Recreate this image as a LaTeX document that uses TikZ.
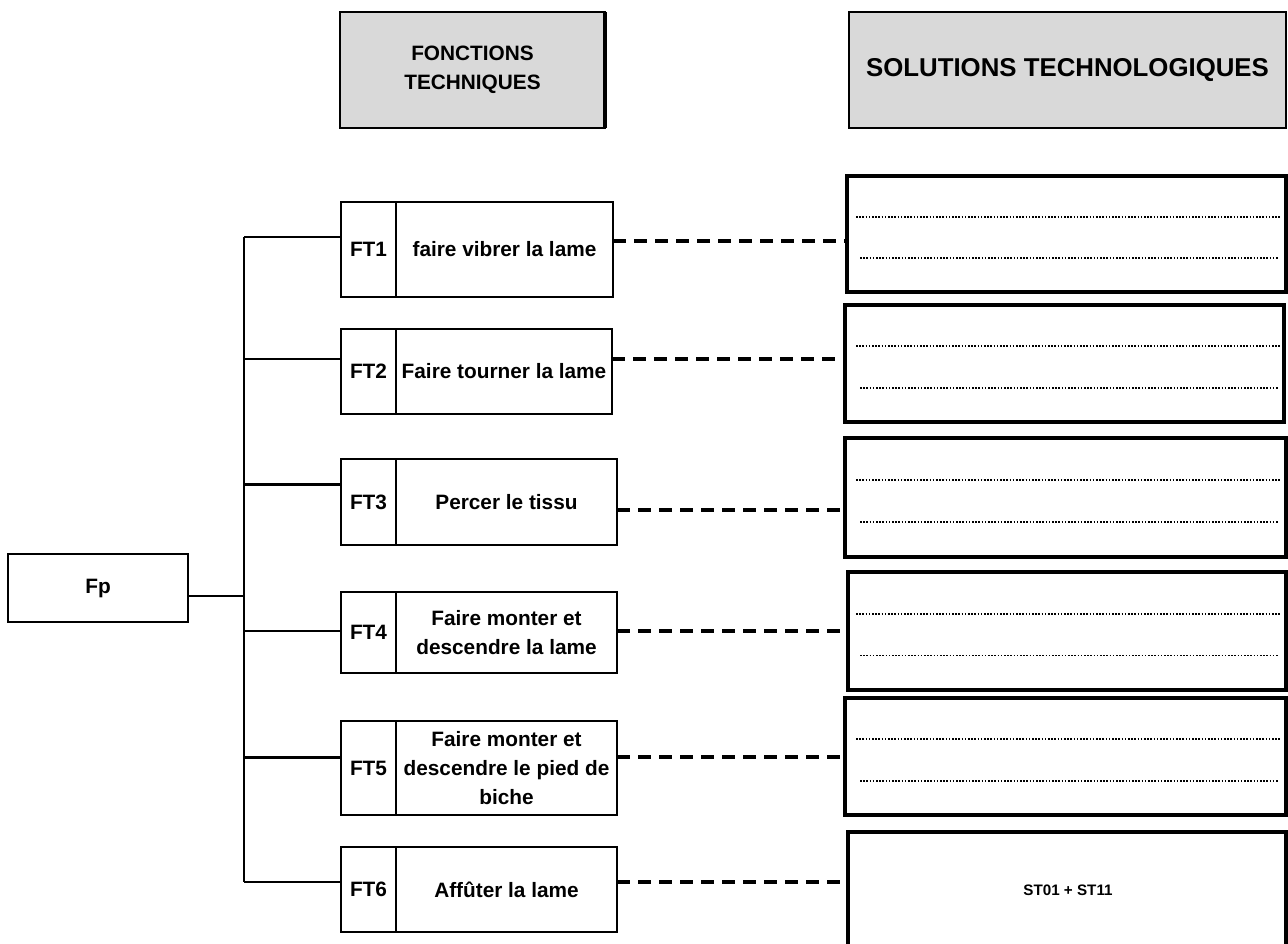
\documentclass[tikz,border=0pt]{standalone}
\usepackage{fontspec}
\setmainfont{Liberation Sans}
\usepackage{tikz}
\usetikzlibrary{positioning,calc}
\definecolor{headgray}{HTML}{D9D9D9}
\tikzstyle{box}    =[draw, line width=1.4pt, inner sep=0pt, outer sep=0pt,
                     align=center, font=\bfseries\fontsize{10.4}{14.5}\selectfont]
\tikzstyle{head}   =[box, fill=headgray, line width=1pt]
\tikzstyle{solbox} =[draw, line width=1.6pt, inner sep=0pt, outer sep=0pt,
                     anchor=north west]
\tikzstyle{link}   =[line width=1pt]
\tikzstyle{dashlink}=[line width=1.6pt, dash pattern=on 6.5pt off 4pt]
\tikzstyle{dots}   =[line width=0.9pt, dash pattern=on 0.8pt off 0.8pt]

\begin{document}
\begin{tikzpicture}[x=0.5pt, y=-0.5pt]
    \useasboundingbox (0,0) rectangle (1288,943);
    \node[head, minimum width=132.5pt, minimum height=58pt] (fthead) at (472.5,70) {FONCTIONS\\TECHNIQUES};
    \draw[line width=2pt] (fthead.north east) -- (fthead.south east);
    \node[head, minimum width=218.5pt, minimum height=58pt,
          font=\bfseries\fontsize{12.9}{15}\selectfont] (sthead) at (1067.5,70) {SOLUTIONS TECHNOLOGIQUES};

    \node[box, minimum width=90pt, minimum height=34pt] (fp) at (98,588) {Fp};
    \coordinate (spinetop) at (244,237);
    \coordinate (spinebot) at (244,882);
    \coordinate (junction) at (244,596);
    \draw[link] (spinetop) -- (spinebot);
    \draw[link] (fp.east |- junction) -- (junction);

    \foreach \i/\l/\t/\r/\b in {1/847/176/1286/292, 2/845/305/1284/422, 3/845/438/1286/557,
                                4/848/572/1286/690, 5/845/698/1286/815, 6/848/832/1286/960}{
        \pgfmathsetmacro\ww{(\r-\l)/2}
        \pgfmathsetmacro\hh{(\b-\t)/2}
        \node[solbox, minimum width=\ww pt, minimum height=\hh pt] (sol\i) at (\l,\t) {};
    }
    \foreach \t/\b in {176/292, 305/422, 438/557, 572/690, 698/815}{
        \pgfmathsetmacro\ya{\t+0.353*(\b-\t)}
        \pgfmathsetmacro\yb{\t+0.707*(\b-\t)}
        \draw[dots] (856,\ya) -- (1280,\ya);
        \draw[dots] (860,\yb) -- (1278,\yb);
    }
    \node[font=\bfseries\fontsize{7.6}{9}\selectfont] (st) at (1068,890) {ST01 + ST11};

    \foreach \i/\t/\b/\r/\br/\dy/\lw/\txt in {1/202/297/613/237/241/1/{faire vibrer la lame},
                                              2/329/414/612/359/359/1/{Faire tourner la lame},
                                              3/459/545/617/484/510/1.5/{Percer le tissu},
                                              4/592/673/617/631/631/1/{Faire monter et\\descendre la lame},
                                              5/721/815/617/757/757/1.5/{Faire monter et\\descendre le pied de\\biche},
                                              6/847/932/617/882/882/1/{Affûter la lame}}{
        \pgfmathsetmacro\hh{(\b-\t)/2}
        \pgfmathsetmacro\ww{(\r-396)/2}
        \node[box, anchor=north west, minimum width=27.5pt, minimum height=\hh pt] (ft\i) at (341,\t) {FT\i};
        \node[box, anchor=north west, minimum width=\ww pt, minimum height=\hh pt] (txt\i) at (ft\i.north east) {\txt};
        \draw[link, line width=\lw pt] (spinetop |- 0,\br) -- (ft\i.west |- 0,\br);
        \draw[dashlink, line width=\lw pt+0.6pt] (txt\i.east |- 0,\dy) -- (sol\i.west |- 0,\dy);
    }
\end{tikzpicture}
\end{document}
